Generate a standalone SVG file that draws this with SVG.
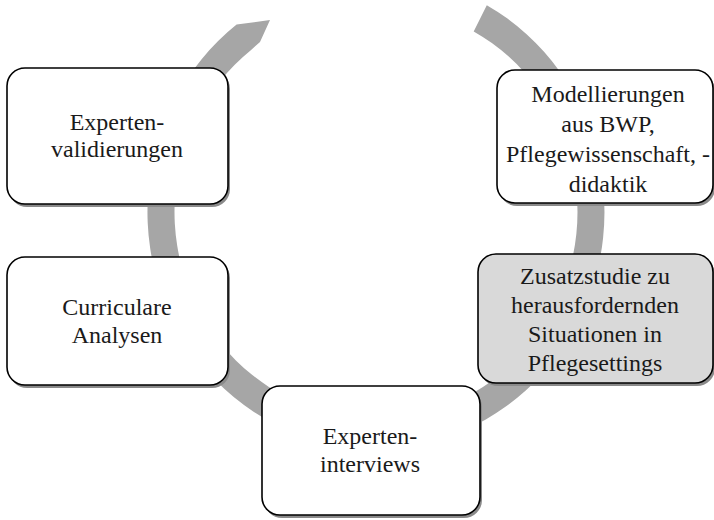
<svg xmlns="http://www.w3.org/2000/svg" width="714" height="520" viewBox="0 0 714 520">
<style>
.ring{fill:#a6a6a6;stroke:none}
.shadow{fill:#8a8a8a}
.box{fill:#ffffff;stroke:#000000;stroke-width:1.6}
.box.hl{fill:#d9d9d9}
.lbl{font-family:"Liberation Serif","Times New Roman",serif;font-size:24px;fill:#1a1a1a;text-anchor:middle}
</style>
<rect width="714" height="520" fill="#ffffff"/>
<g id="connectors">
<path class="ring" d="M 486.8 5.2 A 228.5 236.5 0 1 1 236.6 24.6 L 270 20 L 260 42 L 250.8 50.2 A 201.5 206.5 0 1 0 473.7 31.4 Z"/>
</g>
<g id="node-expertenvalidierungen">
<rect class="shadow" x="9" y="71" width="221" height="136" rx="18"/>
<rect class="box" x="7" y="68" width="221" height="136" rx="18"/>
<text class="lbl" x="117" y="130">Experten-</text>
<text class="lbl" x="117" y="157">validierungen</text>
</g>
<g id="node-curriculare">
<rect class="shadow" x="9" y="260" width="221" height="128" rx="18"/>
<rect class="box" x="7" y="257" width="221" height="128" rx="18"/>
<text class="lbl" x="117" y="315">Curriculare</text>
<text class="lbl" x="117" y="343">Analysen</text>
</g>
<g id="node-experteninterviews">
<rect class="shadow" x="264" y="389" width="218" height="129" rx="18"/>
<rect class="box" x="262" y="386" width="218" height="129" rx="18"/>
<text class="lbl" x="370" y="444">Experten-</text>
<text class="lbl" x="370" y="472">interviews</text>
</g>
<g id="node-zusatzstudie">
<rect class="shadow" x="480" y="257" width="235" height="129" rx="18"/>
<rect class="box hl" x="478" y="254" width="235" height="129" rx="18"/>
<text class="lbl" x="595" y="284">Zusatzstudie zu</text>
<text class="lbl" x="595" y="313">herausfordernden</text>
<text class="lbl" x="595" y="342">Situationen in</text>
<text class="lbl" x="595" y="371">Pflegesettings</text>
</g>
<g id="node-modellierungen">
<rect class="shadow" x="499" y="73" width="216" height="133" rx="18"/>
<rect class="box" x="497" y="70" width="216" height="133" rx="18"/>
<text class="lbl" x="608" y="102">Modellierungen</text>
<text class="lbl" x="608" y="132">aus BWP,</text>
<text class="lbl" x="608" y="162">Pflegewissenschaft, -</text>
<text class="lbl" x="608" y="192">didaktik</text>
</g>
</svg>
